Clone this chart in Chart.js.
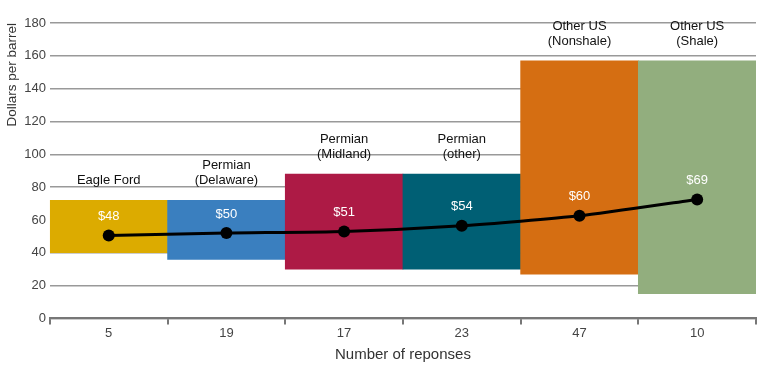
<!DOCTYPE html>
<html>
<head>
<meta charset="utf-8">
<script src="https://cdn.jsdelivr.net/npm/chart.js@4/dist/chart.umd.min.js"></script>
<style>
  html, body { margin: 0; padding: 0; background: #fff; }
  canvas { display: block; }
</style>
</head>
<body>
<canvas id="breakevenChart" width="770" height="371"></canvas>
<script>
// basins shown, with two-line names printed above each range bar
const basinNames = [
  ['Eagle Ford'],
  ['Permian', '(Delaware)'],
  ['Permian', '(Midland)'],
  ['Permian', '(other)'],
  ['Other US', '(Nonshale)'],
  ['Other US', '(Shale)']
];
const responseCounts = ['5', '19', '17', '23', '47', '10'];

// range of answers (low / high), dollars per barrel
const rangeLow = [40, 36, 30, 30, 27, 15];
const rangeHigh = [72, 72, 88, 88, 157, 157];

// average breakeven marker and its printed label
const averagePrice = [50.5, 52, 53, 56.5, 62.5, 72.5];
const averageLabels = ['$48', '$50', '$51', '$54', '$60', '$69'];

const basinColors = ['#dcab00', '#3a7fbf', '#ad1a45', '#005f74', '#d56e12', '#92ae7e'];

const yTicks = { min: 0, max: 180, step: 20 };

const FONT = '"Liberation Sans", Arial, sans-serif';

const labelPlugin = {
  id: 'basinLabels',
  afterDatasetsDraw(chart) {
    const ctx = chart.ctx;
    const bars = chart.getDatasetMeta(0).data;
    const points = chart.getDatasetMeta(1).data;
    ctx.save();
    ctx.textAlign = 'center';

    // basin names above bars
    ctx.font = '13px ' + FONT;
    ctx.fillStyle = '#111';
    ctx.textBaseline = 'alphabetic';
    bars.forEach((bar, i) => {
      const top = Math.min(bar.y, bar.base);
      const lines = basinNames[i];
      lines.forEach((line, j) => {
        const y = top - 16 - (lines.length - 1 - j) * 15;
        ctx.fillText(line, bar.x, y);
      });
    });

    // average values above points
    ctx.font = '13px ' + FONT;
    ctx.fillStyle = '#fff';
    ctx.textBaseline = 'middle';
    points.forEach((pt, i) => {
      ctx.fillText(averageLabels[i], pt.x, pt.y - 19);
    });
    ctx.restore();
  }
};

const ctx = document.getElementById('breakevenChart').getContext('2d');
new Chart(ctx, {
  data: {
    labels: responseCounts,
    datasets: [
      {
        type: 'bar',
        data: rangeLow.map((lo, i) => [lo, rangeHigh[i]]),
        backgroundColor: basinColors,
        borderWidth: 0,
        categoryPercentage: 1,
        barPercentage: 1,
        order: 2
      },
      {
        type: 'line',
        data: averagePrice,
        borderColor: '#000',
        borderWidth: 3,
        pointRadius: 6,
        pointBackgroundColor: '#000',
        pointBorderWidth: 0,
        tension: 0.2,
        order: 1
      }
    ]
  },
  options: {
    responsive: false,
    animation: false,
    layout: { padding: { top: 23, right: 14, left: 4, bottom: 7 } },
    plugins: {
      legend: { display: false },
      tooltip: { enabled: false }
    },
    scales: {
      x: {
        grid: {
          offset: true,
          drawOnChartArea: false,
          drawTicks: true,
          tickLength: 6,
          color: '#777',
          lineWidth: 2
        },
        border: { display: true, color: '#777', width: 2 },
        ticks: { color: '#444', font: { family: FONT, size: 13 }, padding: 1 },
        title: {
          display: true,
          text: 'Number of reponses',
          color: '#333',
          font: { family: FONT, size: 15 },
          padding: { top: 4, bottom: 0 }
        }
      },
      y: {
        min: yTicks.min,
        max: yTicks.max,
        ticks: {
          stepSize: yTicks.step,
          color: '#444',
          font: { family: FONT, size: 13 },
          padding: 4
        },
        grid: { color: '#999', lineWidth: 1.5, drawTicks: false },
        border: { display: false },
        title: {
          display: true,
          text: 'Dollars per barrel',
          align: 'end',
          color: '#333',
          font: { family: FONT, size: 13.5 },
          padding: { top: 0, bottom: 0 }
        }
      }
    }
  },
  plugins: [labelPlugin]
});
</script>
</body>
</html>
